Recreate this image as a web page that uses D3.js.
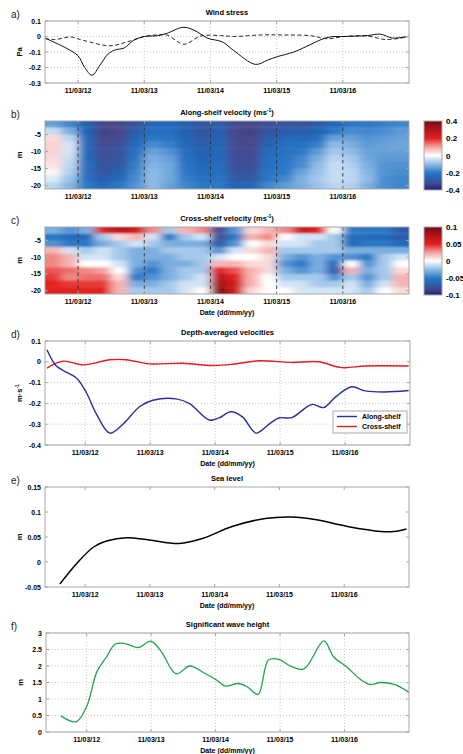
<!DOCTYPE html>
<html>
<head>
<meta charset="utf-8">
<script src="https://cdn.jsdelivr.net/npm/d3@7"></script>
<style>
body { margin: 0; background: #fff; }
svg { font-family: "Liberation Sans", Arial, sans-serif; }
</style>
</head>
<body>
<script>
// ---- data (days of March 2011) ----
var tickDays = [12, 13, 14, 15, 16];
var tickLabels = ["11/03/12", "11/03/13", "11/03/14", "11/03/15", "11/03/16"];

// a) wind stress (Pa)
var windDays = [11.5, 11.83, 12.0, 12.1, 12.21, 12.33, 12.45, 12.55, 12.7, 12.84, 13.0, 13.2, 13.34, 13.6, 13.8, 13.95, 14.18, 14.35, 14.68, 14.86, 15.01, 15.26, 15.52, 15.67, 15.82, 16.02, 16.37, 16.57, 16.75, 17.0];
var windAlong = [-0.01, -0.077, -0.125, -0.2, -0.25, -0.185, -0.115, -0.088, -0.073, -0.025, 0.0, 0.005, 0.02, 0.06, 0.03, -0.01, -0.035, -0.09, -0.18, -0.153, -0.13, -0.1, -0.05, -0.02, -0.002, 0.0, 0.006, 0.015, -0.01, 0.002];
var windCrossDays = [11.5, 11.65, 11.88, 12.08, 12.48, 12.74, 13.0, 13.19, 13.34, 13.6, 13.85, 14.15, 14.35, 14.76, 15.11, 15.52, 15.77, 16.02, 16.37, 16.66, 17.0];
var windCross = [-0.013, -0.02, -0.003, -0.025, -0.06, -0.035, 0.0, 0.01, 0.01, -0.05, 0.003, 0.006, 0.0, 0.01, 0.01, 0.005, -0.015, 0.0, 0.003, -0.02, 0.0];

// b), c) velocity sections: one array per 6-hour column, values from -2 m down to -20 m
var sectionStart = 11.5, sectionStep = 0.25;
var depthCentres = [-2, -4, -6, -8, -10, -12, -14, -16, -18, -20];
var alongShelf = [
  [-0.14, -0.05, 0.04, 0.05, 0.05, 0.04, 0.03, 0.01, -0.03, -0.06],
  [-0.18, -0.12, -0.06, -0.04, -0.04, -0.05, -0.06, -0.07, -0.09, -0.11],
  [-0.27, -0.26, -0.25, -0.24, -0.24, -0.24, -0.23, -0.23, -0.22, -0.2],
  [-0.33, -0.34, -0.33, -0.32, -0.31, -0.31, -0.3, -0.3, -0.28, -0.24],
  [-0.33, -0.33, -0.32, -0.31, -0.3, -0.3, -0.29, -0.27, -0.25, -0.21],
  [-0.3, -0.28, -0.26, -0.24, -0.22, -0.2, -0.19, -0.18, -0.17, -0.16],
  [-0.25, -0.23, -0.2, -0.17, -0.14, -0.12, -0.11, -0.1, -0.1, -0.1],
  [-0.24, -0.23, -0.21, -0.19, -0.16, -0.14, -0.13, -0.13, -0.13, -0.14],
  [-0.27, -0.27, -0.26, -0.25, -0.23, -0.22, -0.21, -0.2, -0.19, -0.18],
  [-0.3, -0.3, -0.29, -0.28, -0.27, -0.26, -0.25, -0.24, -0.22, -0.2],
  [-0.28, -0.27, -0.26, -0.25, -0.24, -0.24, -0.23, -0.22, -0.21, -0.2],
  [-0.32, -0.33, -0.33, -0.32, -0.32, -0.31, -0.31, -0.3, -0.29, -0.26],
  [-0.33, -0.34, -0.33, -0.33, -0.32, -0.32, -0.31, -0.3, -0.29, -0.25],
  [-0.31, -0.3, -0.28, -0.26, -0.24, -0.23, -0.22, -0.21, -0.2, -0.18],
  [-0.3, -0.28, -0.25, -0.23, -0.22, -0.21, -0.2, -0.2, -0.18, -0.15],
  [-0.3, -0.28, -0.25, -0.22, -0.2, -0.18, -0.17, -0.14, -0.12, -0.12],
  [-0.28, -0.26, -0.23, -0.19, -0.15, -0.12, -0.1, -0.09, -0.08, -0.09],
  [-0.25, -0.2, -0.14, -0.1, -0.08, -0.06, -0.05, -0.05, -0.05, -0.06],
  [-0.2, -0.17, -0.14, -0.12, -0.1, -0.08, -0.07, -0.06, -0.06, -0.07],
  [-0.2, -0.18, -0.16, -0.15, -0.14, -0.13, -0.12, -0.11, -0.1, -0.12],
  [-0.19, -0.17, -0.15, -0.14, -0.14, -0.15, -0.16, -0.16, -0.17, -0.17],
  [-0.18, -0.15, -0.14, -0.13, -0.14, -0.15, -0.16, -0.17, -0.18, -0.18]
];
var crossShelf = [
  [-0.03, -0.05, -0.04, 0.02, 0.03, 0.03, 0.04, 0.045, 0.05, 0.05],
  [-0.04, -0.06, -0.05, -0.01, 0.02, 0.02, 0.035, 0.03, 0.045, 0.05],
  [-0.03, -0.06, -0.05, -0.02, -0.01, 0.0, 0.03, 0.035, 0.045, 0.05],
  [0.05, -0.02, -0.03, -0.01, -0.01, 0.0, 0.025, 0.035, 0.045, 0.05],
  [0.07, 0.01, -0.02, -0.02, -0.02, -0.01, 0.0, 0.01, 0.02, 0.02],
  [0.06, 0.02, -0.01, -0.03, -0.03, -0.03, -0.04, -0.05, -0.03, -0.02],
  [0.03, -0.01, -0.02, -0.03, -0.03, -0.04, -0.05, -0.04, -0.03, -0.02],
  [-0.02, -0.05, -0.03, -0.02, -0.03, -0.03, -0.03, -0.03, -0.02, -0.02],
  [0.02, -0.02, -0.03, -0.02, -0.02, -0.03, -0.02, -0.02, -0.01, -0.01],
  [0.03, -0.01, -0.03, -0.02, -0.02, -0.02, -0.02, -0.01, -0.01, 0.0],
  [-0.08, -0.08, -0.07, -0.04, -0.01, 0.02, 0.05, 0.07, 0.08, 0.09],
  [-0.04, -0.05, -0.04, -0.01, 0.0, 0.02, 0.04, 0.05, 0.06, 0.06],
  [0.01, 0.02, 0.0, 0.01, 0.0, 0.01, 0.02, 0.02, 0.02, 0.01],
  [0.02, 0.03, 0.01, 0.02, 0.01, 0.01, 0.01, 0.0, 0.0, 0.0],
  [0.03, 0.0, -0.01, -0.02, -0.03, -0.04, -0.03, -0.02, -0.01, 0.0],
  [0.06, -0.01, -0.01, -0.02, -0.04, -0.05, -0.04, -0.02, -0.01, -0.01],
  [0.05, -0.01, -0.02, -0.02, -0.03, -0.03, -0.03, -0.02, -0.02, -0.01],
  [0.0, -0.02, -0.02, -0.02, -0.04, -0.06, -0.07, -0.04, -0.02, -0.01],
  [-0.05, -0.06, -0.06, -0.03, -0.04, 0.0, 0.02, -0.02, -0.01, -0.01],
  [-0.05, -0.06, -0.05, -0.03, -0.05, -0.04, -0.03, -0.04, -0.03, -0.02],
  [-0.05, -0.06, -0.05, -0.03, -0.02, -0.02, -0.02, -0.02, -0.01, 0.0],
  [-0.07, -0.07, -0.06, -0.03, -0.01, 0.0, 0.01, 0.02, 0.02, 0.01]
];

// d) depth-averaged velocities (m/s)
var avgAlongDays = [11.41, 11.54, 11.66, 11.87, 12.02, 12.17, 12.38, 12.58, 12.84, 13.04, 13.4, 13.6, 13.91, 14.06, 14.24, 14.42, 14.63, 14.83, 14.98, 15.18, 15.49, 15.67, 15.85, 16.1, 16.31, 16.61, 16.98];
var avgAlong = [0.058, -0.015, -0.042, -0.08, -0.15, -0.25, -0.343, -0.3, -0.215, -0.185, -0.178, -0.2, -0.28, -0.27, -0.24, -0.265, -0.343, -0.3, -0.27, -0.268, -0.205, -0.22, -0.17, -0.12, -0.14, -0.145, -0.138];
var avgCrossDays = [11.41, 11.66, 11.97, 12.38, 12.63, 12.99, 13.5, 13.96, 14.27, 14.67, 15.18, 15.59, 15.95, 16.31, 16.98];
var avgCross = [-0.03, 0.003, -0.015, 0.01, 0.01, -0.01, -0.007, -0.018, -0.012, 0.005, -0.003, 0.0, -0.028, -0.02, -0.02];

// e) sea level (m)
var seaDays = [11.61, 11.87, 12.13, 12.33, 12.64, 12.99, 13.45, 13.81, 14.27, 14.78, 15.19, 15.55, 16.05, 16.57, 16.77, 16.96];
var seaLevel = [-0.044, -0.003, 0.03, 0.042, 0.0487, 0.044, 0.037, 0.047, 0.071, 0.087, 0.09, 0.085, 0.071, 0.061, 0.061, 0.066];

// f) significant wave height (m)
var waveDays = [11.6, 11.84, 12.0, 12.16, 12.31, 12.44, 12.59, 12.8, 13.0, 13.16, 13.39, 13.6, 13.83, 14.02, 14.15, 14.35, 14.49, 14.66, 14.82, 14.98, 15.16, 15.37, 15.68, 15.83, 16.04, 16.25, 16.4, 16.56, 16.77, 17.0];
var waveHeight = [0.49, 0.31, 0.77, 1.83, 2.28, 2.66, 2.68, 2.56, 2.75, 2.43, 1.76, 2.0, 1.78, 1.57, 1.39, 1.47, 1.37, 1.14, 2.18, 2.2, 2.0, 1.91, 2.76, 2.28, 1.96, 1.59, 1.44, 1.5, 1.44, 1.2];

// ---- drawing ----
var svg = d3.select("body").append("svg")
    .attr("width", 463)
    .attr("height", 754);
var defs = svg.append("defs");

var frameColor = "#a8a8a8";
var gridColor = "#bdbdbd";

// diverging colour map (normalised -1..1)
var cmap = d3.scaleLinear()
    .domain([-1, -0.82, -0.66, -0.5, -0.25, 0, 0.25, 0.5, 0.75, 1])
    .range(["#1c2170", "#48488c", "#1f63b5", "#2b78c6", "#8fbce6", "#ffffff", "#f4a3a0", "#e2201f", "#b3141a", "#6c0e12"])
    .clamp(true);

// soft blur so the gridded section looks like shaded interpolation
defs.append("filter").attr("id", "soft")
    .attr("x", -0.1).attr("y", -0.3).attr("width", 1.2).attr("height", 1.6)
    .append("feGaussianBlur").attr("stdDeviation", "5 1.3");

function makePanel(o) {
    var x = d3.scaleLinear().domain(o.xd).range([o.x0, o.x1]);
    var y = d3.scaleLinear().domain(o.yd).range([o.y1, o.y0]);
    var g = svg.append("g");

    if (o.grid) {
        g.selectAll(".gx").data(tickDays).enter().append("line")
            .attr("x1", function(d) { return x(d); })
            .attr("x2", function(d) { return x(d); })
            .attr("y1", o.y0).attr("y2", o.y1)
            .attr("stroke", gridColor).attr("stroke-width", 0.8)
            .attr("stroke-dasharray", "1,2");
        g.selectAll(".gy").data(o.yTicks).enter().append("line")
            .attr("x1", o.x0).attr("x2", o.x1)
            .attr("y1", function(d) { return y(d); })
            .attr("y2", function(d) { return y(d); })
            .attr("stroke", gridColor).attr("stroke-width", 0.8)
            .attr("stroke-dasharray", "1,2");
    }

    var axes = svg.append("g");
    // x tick labels
    axes.selectAll(".xl").data(tickDays).enter().append("text")
        .attr("x", function(d) { return x(d); })
        .attr("y", o.y1 + 10)
        .attr("text-anchor", "middle")
        .attr("font-size", 7).attr("font-weight", "bold")
        .text(function(d, i) { return tickLabels[i]; });
    // y tick labels
    axes.selectAll(".yl").data(o.yTicks).enter().append("text")
        .attr("x", o.x0 - 4)
        .attr("y", function(d) { return y(d) + 2.5; })
        .attr("text-anchor", "end")
        .attr("font-size", 7).attr("font-weight", "bold")
        .text(function(d) { return String(+d.toFixed(2)); });

    if (o.title) {
        var t = axes.append("text")
            .attr("x", (o.x0 + o.x1) / 2).attr("y", o.y0 - 6)
            .attr("text-anchor", "middle")
            .attr("font-size", 7.5).attr("font-weight", "bold");
        t.append("tspan").text(o.title);
        if (o.titleUnit) {
            t.append("tspan").text(" (ms");
            t.append("tspan").attr("font-size", 5).attr("dy", -3).text("-1");
            t.append("tspan").attr("dy", 3).text(")");
        }
    }
    axes.append("text")
        .attr("x", 11).attr("y", o.y0 - 3)
        .attr("font-size", 10).attr("fill", "#222")
        .text(o.label);
    if (o.ylab) {
        var yl = axes.append("text")
            .attr("transform", "translate(" + (o.x0 - 23) + "," + ((o.y0 + o.y1) / 2) + ") rotate(-90)")
            .attr("text-anchor", "middle")
            .attr("font-size", 7.5).attr("font-weight", "bold");
        yl.append("tspan").text(o.ylab);
        if (o.ylabSup) yl.append("tspan").attr("font-size", 5).attr("dy", -3).text(o.ylabSup);
    }
    if (o.xlab) {
        axes.append("text")
            .attr("x", (o.x0 + o.x1) / 2).attr("y", o.y1 + 20.5)
            .attr("text-anchor", "middle")
            .attr("font-size", 7).attr("font-weight", "bold")
            .text("Date (dd/mm/yy)");
    }
    return { g: g, axes: axes, x: x, y: y, o: o };
}

function drawFrame(p) {
    var o = p.o, x = p.x, y = p.y;
    var f = svg.append("g");
    f.append("rect")
        .attr("x", o.x0).attr("y", o.y0)
        .attr("width", o.x1 - o.x0).attr("height", o.y1 - o.y0)
        .attr("fill", "none").attr("stroke", frameColor).attr("stroke-width", 1);
    f.selectAll(".tx").data(tickDays).enter().append("path")
        .attr("d", function(d) {
            return "M" + x(d) + "," + o.y1 + "v-3M" + x(d) + "," + o.y0 + "v3";
        })
        .attr("stroke", frameColor);
    f.selectAll(".ty").data(o.yTicks).enter().append("path")
        .attr("d", function(d) {
            return "M" + o.x0 + "," + y(d) + "h3M" + o.x1 + "," + y(d) + "h-3";
        })
        .attr("stroke", frameColor);
}

function drawLine(p, xs, ys, color, width, dash) {
    var line = d3.line()
        .x(function(d, i) { return p.x(xs[i]); })
        .y(function(d) { return p.y(d); })
        .curve(d3.curveCatmullRom.alpha(0.5));
    p.g.append("path")
        .datum(ys)
        .attr("d", line)
        .attr("fill", "none")
        .attr("stroke", color)
        .attr("stroke-width", width)
        .attr("stroke-dasharray", dash || null);
}

var clipId = 0;
function drawSection(p, cols, vmax) {
    var o = p.o, id = "clip" + (clipId++);
    defs.append("clipPath").attr("id", id).append("rect")
        .attr("x", o.x0).attr("y", o.y0)
        .attr("width", o.x1 - o.x0).attr("height", o.y1 - o.y0);
    var inner = p.g.append("g").attr("clip-path", "url(#" + id + ")")
        .append("g").attr("filter", "url(#soft)");
    var last = cols.length - 1;
    cols.forEach(function(col, i) {
        var t0 = sectionStart + i * sectionStep;
        // edge cells run past the frame so the blur does not fade at the border
        var xa = p.x(t0) - (i === 0 ? 14 : 0);
        var xb = p.x(t0 + sectionStep) + (i === last ? 14 : 0.5);
        inner.selectAll(null).data(col).enter().append("rect")
            .attr("x", xa)
            .attr("width", xb - xa)
            .attr("y", function(d, j) { return p.y(depthCentres[j] + 1) - (j === 0 ? 5 : 0); })
            .attr("height", function(d, j) {
                return p.y(depthCentres[j] - 1) - p.y(depthCentres[j] + 1) + (j === 0 || j === col.length - 1 ? 5 : 0.5);
            })
            .attr("fill", function(d) { return cmap(d / vmax); });
    });
    p.g.selectAll(".dash").data(tickDays).enter().append("line")
        .attr("x1", function(d) { return p.x(d); })
        .attr("x2", function(d) { return p.x(d); })
        .attr("y1", o.y0).attr("y2", o.y1)
        .attr("stroke", "#333").attr("stroke-width", 0.9)
        .attr("stroke-dasharray", "3.5,3");
}

var gradId = 0;
function drawColorbar(y0, y1, ticks, vmax) {
    var id = "cb" + (gradId++);
    var grad = defs.append("linearGradient")
        .attr("id", id).attr("x1", 0).attr("x2", 0).attr("y1", 1).attr("y2", 0);
    d3.range(0, 1.0001, 0.05).forEach(function(s) {
        grad.append("stop").attr("offset", s).attr("stop-color", cmap(s * 2 - 1));
    });
    var cy = d3.scaleLinear().domain([-vmax, vmax]).range([y1, y0]);
    svg.append("rect")
        .attr("x", 424).attr("y", y0).attr("width", 18).attr("height", y1 - y0)
        .attr("fill", "url(#" + id + ")")
        .attr("stroke", frameColor);
    svg.selectAll(null).data(ticks).enter().append("text")
        .attr("x", 446)
        .attr("y", function(d) { return cy(d) + 3; })
        .attr("font-size", 8).attr("font-weight", "bold")
        .text(function(d) { return String(d); });
}

// a) wind stress
var pa = makePanel({ x0: 45, x1: 409, y0: 21, y1: 83, xd: [11.5, 17], yd: [-0.3, 0.1],
    yTicks: [0.1, 0, -0.1, -0.2, -0.3], grid: true, title: "Wind stress", label: "a)", ylab: "Pa" });
drawLine(pa, windCrossDays, windCross, "#111", 0.9, "4,2.5");
drawLine(pa, windDays, windAlong, "#111", 1);
drawFrame(pa);

// b) along-shelf section
var pb = makePanel({ x0: 45, x1: 409, y0: 121, y1: 189, xd: [11.5, 17], yd: [-21, -1],
    yTicks: [-5, -10, -15, -20], title: "Along-shelf velocity", titleUnit: true, label: "b)", ylab: "m" });
drawSection(pb, alongShelf, 0.4);
drawFrame(pb);
drawColorbar(121, 190, [0.4, 0.2, 0, -0.2, -0.4], 0.4);

// c) cross-shelf section
var pc = makePanel({ x0: 45, x1: 409, y0: 227, y1: 294, xd: [11.5, 17], yd: [-21, -1],
    yTicks: [-5, -10, -15, -20], title: "Cross-shelf velocity", titleUnit: true, label: "c)", ylab: "m", xlab: true });
drawSection(pc, crossShelf, 0.1);
drawFrame(pc);
drawColorbar(227, 295, [0.1, 0.05, 0, -0.05, -0.1], 0.1);

// d) depth-averaged velocities
var pd = makePanel({ x0: 45, x1: 410, y0: 341, y1: 445, xd: [11.38, 17], yd: [-0.4, 0.1],
    yTicks: [0.1, 0, -0.1, -0.2, -0.3, -0.4], grid: true, title: "Depth-averaged velocities", label: "d)",
    ylab: "m\u00b7s", ylabSup: "-1", xlab: true });
drawLine(pd, avgCrossDays, avgCross, "#e8191f", 1.4);
drawLine(pd, avgAlongDays, avgAlong, "#2b2f9a", 1.4);
drawFrame(pd);

var legend = svg.append("g");
legend.append("rect")
    .attr("x", 333).attr("y", 411).attr("width", 74).attr("height", 22)
    .attr("fill", "#fff").attr("stroke", frameColor);
[["Along-shelf", "#2b2f9a"], ["Cross-shelf", "#e8191f"]].forEach(function(e, i) {
    var ly = 416.5 + i * 10;
    legend.append("line")
        .attr("x1", 337).attr("x2", 357).attr("y1", ly).attr("y2", ly)
        .attr("stroke", e[1]).attr("stroke-width", 1.4);
    legend.append("text")
        .attr("x", 362).attr("y", ly + 2.5)
        .attr("font-size", 7).attr("font-weight", "bold")
        .text(e[0]);
});

// e) sea level
var pe = makePanel({ x0: 45, x1: 409, y0: 487, y1: 587, xd: [11.38, 17], yd: [-0.05, 0.15],
    yTicks: [0.15, 0.1, 0.05, 0, -0.05], title: "Sea level", label: "e)", ylab: "m", xlab: true });
drawLine(pe, seaDays, seaLevel, "#000", 1.5);
drawFrame(pe);

// f) significant wave height
var pf = makePanel({ x0: 46, x1: 409, y0: 633, y1: 732, xd: [11.37, 17], yd: [0, 3],
    yTicks: [3, 2.5, 2, 1.5, 1, 0.5, 0], grid: true, title: "Significant wave height", label: "f)", ylab: "m", xlab: true });
drawLine(pf, waveDays, waveHeight, "#1fa34f", 1.3);
drawFrame(pf);
</script>
</body>
</html>
